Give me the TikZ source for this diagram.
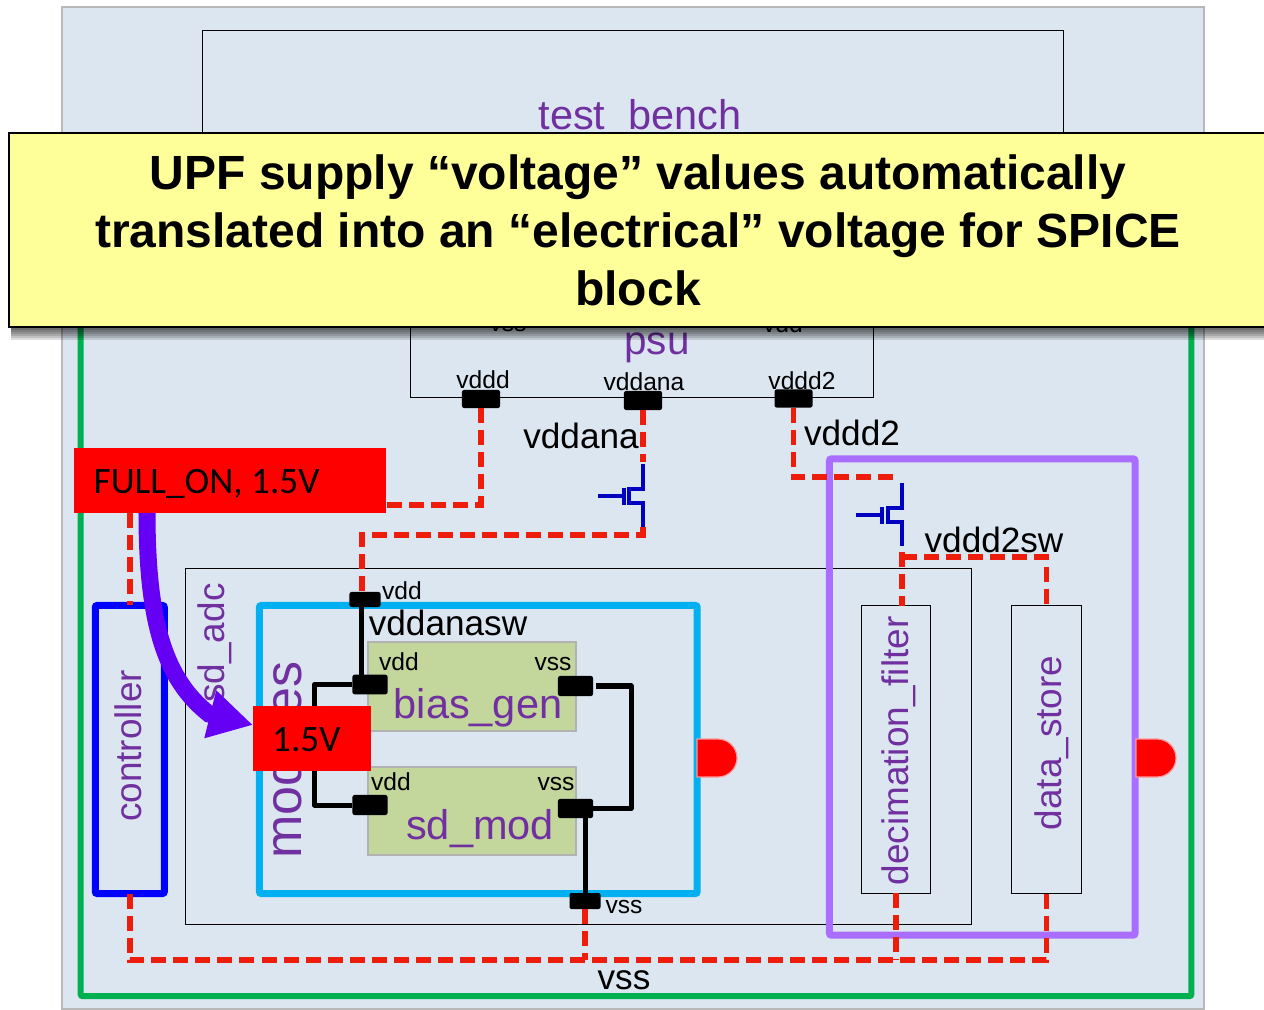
\documentclass[tikz,border=0pt]{standalone}
\usepackage{fontspec}
\setmainfont{Liberation Sans}
\newfontfamily\calibrifont{Carlito}
\usetikzlibrary{arrows.meta,shadows}
\definecolor{panelblue}{HTML}{DCE6F1}
\definecolor{labelpurple}{HTML}{7030A0}
\definecolor{domaingreen}{HTML}{00B050}
\definecolor{domaincyan}{HTML}{00B0F0}
\definecolor{domainviolet}{HTML}{A96EFF}
\definecolor{domainblue}{HTML}{0000FF}
\definecolor{wirered}{HTML}{EE1C0A}
\definecolor{fetblue}{HTML}{0000C0}
\definecolor{macroolive}{HTML}{C3D69B}
\definecolor{calloutyellow}{HTML}{FFFF99}
\definecolor{arrowviolet}{HTML}{6600F5}
\tikzset{
	block/.style={draw=black, line width=.01cm, inner sep=0, outer sep=0},
	domain/.style={draw=#1, line width=.07cm, rounded corners=.02cm, inner sep=0, outer sep=0},
	macrobox/.style={draw=black!30, fill=macroolive, line width=.02cm, minimum width=2.07cm, minimum height=.885cm, inner sep=0, outer sep=0},
	pad/.style={fill=black, rounded corners=.02cm, inner sep=0, outer sep=0},
	redbox/.style={fill=red, inner sep=0, outer sep=0},
	redtext/.style={anchor=base west, inner sep=0, font=\calibrifont\fontsize{10.6}{12}\selectfont},
	smalltext/.style={anchor=base, inner sep=0, font=\fontsize{7}{8}\selectfont},
	bigtext/.style={anchor=base, inner sep=0, font=\fontsize{10}{12}\selectfont},
	blocktext/.style={anchor=base, inner sep=0, text=labelpurple, font=\fontsize{#1}{14}\selectfont},
	redwire/.style={draw=wirered, line width=.055cm, dash pattern=on .15cm off .07cm},
	blackwire/.style={draw=black, line width=.05cm, line join=round},
	fetline/.style={draw=fetblue, line width=.035cm},
	isolation/.style={fill=red, draw=red!40!white, line width=.012cm},
	softshadow/.style={drop shadow={shadow xshift=.025cm, shadow yshift=-#1, fill=black, opacity=.13}}
}
\begin{document}
\begin{tikzpicture}[x=.01cm, y=-.01cm]
	\useasboundingbox (0,0) rectangle (1264,1010);
	\clip (0,0) rectangle (1264,1010);

	\node[draw=black!28, fill=panelblue, line width=.02cm, minimum width=11.42cm, minimum height=10.02cm, inner sep=0] (chip) at (633,508) {};
	\node[block, minimum width=8.6cm, minimum height=2cm] (testbench) at (633.2,130.4) {};
	\node[domain=domaingreen, line width=.06cm, minimum width=11.1cm, minimum height=7.46cm] (alwayson) at (636,623) {};
	\node[block, minimum width=4.63cm, minimum height=1.37cm] (psu) at (641.7,328.5) {};
	\node[block, minimum width=7.85cm, minimum height=3.55cm] (sdadc) at (578.5,746.5) {};
	\node[block, minimum width=.69cm, minimum height=2.87cm] (decimation) at (896,749.5) {};
	\node[block, minimum width=.69cm, minimum height=2.87cm] (datastore) at (1046.5,749.5) {};
	\node[domain=domainviolet, minimum width=3.055cm, minimum height=4.76cm] (switched) at (982.25,697) {};
	\node[domain=domainblue, minimum width=.69cm, minimum height=2.88cm] (controller) at (129.8,749.5) {};
	\node[domain=domaincyan, minimum width=4.375cm, minimum height=2.88cm] (modules) at (478.3,749.5) {};
	\node[macrobox] (biasgen) at (472,686.5) {};
	\node[macrobox] (sdmod) at (472,811) {};

	\node[blocktext=11.8] (testlabel) at (640,130) {test\ \ bench};
	\node[blocktext=11.5] (psulabel) at (657,355) {psu};
	\node[blocktext=10.5, rotate=90] (controllerlabel) at (141,746) {controller};
	\node[blocktext=10.5, rotate=90] (sdadclabel) at (224,643) {sd\_adc};
	\node[blocktext=14.8, rotate=90] (moduleslabel) at (301,760) {modules};
	\node[blocktext=10.5, rotate=90] (decimationlabel) at (908,751) {decimation\_filter};
	\node[blocktext=10.5, rotate=90] (datalabel) at (1061,743) {data\_store};
	\node[blocktext=11.8] (biaslabel) at (478,718) {bias\_gen};
	\node[blocktext=11.8] (sdmodlabel) at (480,839) {sd\_mod};

	\node[pad, minimum width=.38cm, minimum height=.18cm] (vdddpad) at (481,399) {};
	\node[pad, minimum width=.38cm, minimum height=.19cm] (vddanapad) at (643,400.5) {};
	\node[pad, minimum width=.38cm, minimum height=.18cm] (vdddtwopad) at (793.5,398.5) {};
	\node[pad, minimum width=.31cm, minimum height=.15cm] (vddport) at (365,599.5) {};
	\node[pad, minimum width=.31cm, minimum height=.16cm] (vssport) at (585,901) {};
	\node[pad, minimum width=.35cm, minimum height=.195cm] (biasvdd) at (370,684.5) {};
	\node[pad, minimum width=.35cm, minimum height=.2cm] (biasvss) at (575.5,686) {};
	\node[pad, minimum width=.35cm, minimum height=.2cm] (sdvdd) at (370,805) {};
	\node[pad, minimum width=.35cm, minimum height=.19cm] (sdvss) at (575.5,808.5) {};

	\node[smalltext] (psuvss) at (508,332) {vss};
	\node[smalltext] (psuvdd) at (783,333) {vdd};
	\node[smalltext] (vdddlabel) at (483,389) {vddd};
	\node[smalltext] (vddanalabel) at (644,391) {vddana};
	\node[smalltext] (vdddtwolabel) at (802,390) {vddd2};
	\node[smalltext] (vddportlabel) at (402,600) {vdd};
	\node[smalltext] (vssportlabel) at (624,913) {vss};
	\node[smalltext] (biasvddlabel) at (399,670) {vdd};
	\node[smalltext] (biasvsslabel) at (553,670) {vss};
	\node[smalltext] (sdvddlabel) at (391,790) {vdd};
	\node[smalltext] (sdvsslabel) at (556,790) {vss};
	\node[bigtext] (vddanawire) at (581,449) {vddana};
	\node[bigtext] (vdddtwowire) at (852,446) {vddd2};
	\node[bigtext] (vdddtwosw) at (994,553) {vddd2sw};
	\node[bigtext] (vddanasw) at (448,636) {vddanasw};
	\node[bigtext] (vsswire) at (624,989) {vss};

	\draw[isolation] (697,739) -- (718,739) arc (-90:90:19 and 19) -- (697,777) -- cycle;
	\draw[isolation] (1136,739) -- (1157,739) arc (-90:90:19 and 19) -- (1136,777) -- cycle;

	\coordinate (fetatop) at (643,464);
	\coordinate (fetagate) at (598,496);
	\coordinate (fetabottom) at (643,527);
	\coordinate (fetbtop) at (902,483);
	\coordinate (fetbgate) at (856,515);
	\coordinate (fetbbottom) at (902,546);
	\draw[fetline] (fetatop) -- ++(0,25) -- ++(-14,0) -- ++(0,14) -- ++(14,0) -- (fetabottom);
	\draw[fetline] (fetagate) -- ++(26,0) ++(0,-8) -- ++(0,17);
	\draw[fetline] (fetbtop) -- ++(0,25) -- ++(-14,0) -- ++(0,14) -- ++(14,0) -- (fetbbottom);
	\draw[fetline] (fetbgate) -- ++(26,0) ++(0,-8) -- ++(0,17);

	\draw[blackwire] (vddport.south -| 361,0) -- (biasvdd.north -| 361,0);
	\draw[blackwire] (biasvdd.west) -- ++(-38,0) |- (sdvdd.west);
	\draw[blackwire] ([xshift=.03cm]biasvss.east) -- ++(35,0) |- (sdvss.east);
	\draw[blackwire] (sdvss.south -| vssport.north) -- (vssport.north);

	\coordinate (vssrail) at (130,960);
	\coordinate (vdddtwostub) at (900,477);
	\coordinate (swbranch) at (902,557);
	\coordinate (vddanarail) at (643,535);
	\draw[redwire] (vdddpad.south) |- (386,505);
	\draw[redwire] (vddanapad.south) -- (643,462);
	\draw[redwire] (fetabottom) -- (vddanarail) -| (362,592);
	\draw[redwire] (vdddtwopad.south) |- (vdddtwostub);
	\draw[redwire] (fetbbottom) ++(0,6) -- (swbranch) -- (decimation.north -| swbranch);
	\draw[redwire] (swbranch) -| (datastore.north);
	\draw[redwire] (controller.south) |- (datastore.south |- vssrail) -- (datastore.south);
	\draw[redwire] (decimation.south) -- (decimation.south |- vssrail);
	\draw[redwire] (vssport.south) -- (vssport.south |- vssrail);

	\node[redbox, minimum width=1.18cm, minimum height=.65cm] (voltbox) at (312,738.5) {};
	\node[redbox, minimum width=3.12cm, minimum height=.65cm] (stateonbox) at (230,480.5) {};
	\node[redtext] (volttext) at (271.5,751) {1.5V};
	\node[redtext] (stateontext) at (93,494) {FULL\_ON, 1.5V};
	\draw[redwire] (stateonbox.south -| controller) -- (controller.north);
	\draw[draw=arrowviolet, line width=.17cm, -{Triangle[length=.44cm, width=.46cm]}] (147,513) .. controls (147,625) and (166,680) .. (209,714) -- ([yshift=.135cm]voltbox.west);

	\node[draw=black, fill=calloutyellow, line width=.02cm, minimum width=12.58cm, minimum height=1.94cm, inner sep=0, align=center, softshadow=.03cm, softshadow=.05cm, softshadow=.07cm, softshadow=.09cm, softshadow=.11cm, softshadow=.13cm, font=\bfseries\fontsize{13.65}{16.5}\selectfont] (callout) at (638,230) {UPF supply “voltage” values automatically\\translated into an “electrical” voltage for SPICE\\block};
\end{tikzpicture}
\end{document}
